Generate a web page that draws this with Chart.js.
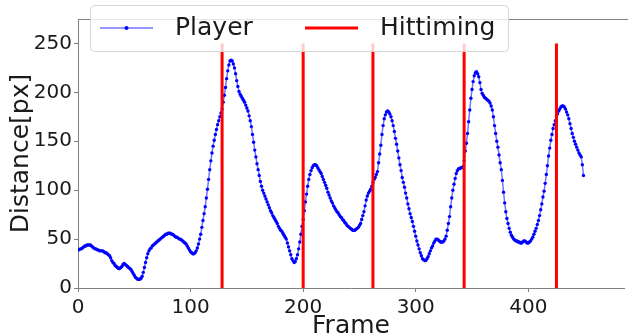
<!DOCTYPE html>
<html>
<head>
<meta charset="utf-8">
<title>Player distance</title>
<script src="https://cdn.jsdelivr.net/npm/chart.js@4.4.1/dist/chart.umd.min.js"></script>
<style>
    html, body { margin: 0; padding: 0; background: #fff; }
    #chart { display: block; }
</style>
</head>
<body>
<canvas id="chart" width="628" height="336"></canvas>
<script>
// Distancia del jugador por frame (un valor por frame 0..449)
const playerDistance = [
    39, 39, 40, 40, 41, 42, 43, 43, 44, 44,
    44, 44, 43, 42, 41, 40, 40, 39, 39, 38,
    38, 38, 38, 37, 36, 36, 35, 34, 33, 31,
    28, 26, 25, 23, 22, 21, 20, 20, 21, 22,
    24, 25, 24, 23, 22, 21, 20, 19, 17, 15,
    13, 11, 10, 9, 9, 9, 10, 12, 16, 21,
    26, 31, 35, 38, 40, 41, 43, 44, 45, 46,
    47, 48, 49, 50, 51, 52, 53, 54, 55, 55,
    56, 56, 56, 55, 55, 54, 53, 52, 52, 51,
    50, 50, 49, 48, 47, 46, 45, 43, 41, 39,
    37, 36, 35, 35, 36, 38, 41, 45, 50, 55,
    62, 69, 76, 83, 92, 101, 111, 121, 130, 138,
    145, 151, 157, 162, 167, 171, 175, 179, 183, 190,
    197, 205, 214, 222, 228, 232, 233, 232, 229, 225,
    219, 212, 206, 201, 198, 196, 194, 192, 190, 187,
    184, 181, 176, 171, 165, 157, 149, 141, 134, 127,
    121, 115, 109, 104, 100, 97, 94, 91, 88, 85,
    82, 79, 77, 74, 72, 70, 68, 66, 63, 61,
    59, 58, 56, 54, 52, 50, 46, 42, 38, 34,
    30, 28, 26, 27, 30, 34, 40, 47, 55, 63,
    70, 79, 88, 96, 104, 111, 116, 120, 123, 125,
    126, 126, 125, 123, 121, 119, 117, 114, 111, 108,
    105, 102, 98, 95, 92, 89, 87, 84, 82, 80,
    78, 77, 75, 73, 72, 70, 69, 67, 66, 64,
    63, 62, 61, 60, 59, 59, 59, 60, 61, 62,
    64, 66, 70, 74, 78, 84, 90, 94, 97, 99,
    101, 104, 108, 111, 113, 116, 119, 128, 137, 146,
    157, 166, 173, 177, 180, 181, 180, 178, 175, 171,
    166, 160, 153, 147, 140, 133, 126, 120, 113, 108,
    103, 97, 92, 86, 81, 76, 72, 68, 63, 58,
    53, 48, 44, 40, 36, 33, 30, 29, 28, 28,
    30, 32, 35, 38, 41, 43, 46, 48, 50, 50,
    49, 48, 47, 47, 47, 48, 50, 53, 59, 66,
    73, 83, 92, 100, 106, 112, 117, 120, 122, 122,
    123, 123, 124, 130, 140, 148, 158, 170, 182, 194,
    203, 211, 217, 220, 221, 219, 216, 210, 203, 199,
    197, 195, 194, 193, 192, 191, 189, 186, 182, 175,
    166, 158, 150, 144, 136, 128, 121, 110, 98, 87,
    78, 71, 66, 61, 57, 54, 52, 50, 49, 48,
    48, 47, 47, 46, 46, 47, 48, 48, 47, 46,
    46, 47, 48, 50, 52, 55, 58, 61, 65, 69,
    74, 80, 86, 93, 99, 107, 116, 125, 135, 143,
    151, 157, 163, 167, 171, 175, 178, 181, 183, 185,
    186, 186, 185, 183, 180, 177, 173, 168, 163, 158,
    154, 150, 147, 144, 141, 138, 136, 134, 126, 115
];

// Frames de golpe (líneas verticales rojas)
const hitFrames = [128, 200, 262, 343, 425];
const hitTop = 250;

// Ejes
const xTicks = [0, 100, 200, 300, 400];
const yTicks = [0, 50, 100, 150, 200, 250];
const xMax = 485;
const yMax = 275;

const COLORS = {
    player: '#0000ff',
    playerLine: 'rgba(0, 0, 255, 0.55)',
    hit: '#ff0000',
    spine: '#808080',
    text: '#1a1a1a',
};

const FONT = '"DejaVu Sans", "Liberation Sans", sans-serif';

const playerPoints = playerDistance.map(function(v, i) {
    return { x: i, y: v };
});

const hitPoints = [];
hitFrames.forEach(function(f) {
    hitPoints.push({ x: f, y: 0 });
    hitPoints.push({ x: f, y: hitTop });
    hitPoints.push({ x: f, y: null });
});

// Borde superior del área de dibujo + leyenda estilo matplotlib
const framePlugin = {
    id: 'frameAndLegend',
    afterDatasetsDraw(chart) {
        const ctx = chart.ctx;
        const area = chart.chartArea;
        ctx.save();
        ctx.strokeStyle = COLORS.spine;
        ctx.lineWidth = 1;
        ctx.beginPath();
        ctx.moveTo(area.left, area.top + 0.5);
        ctx.lineTo(chart.width, area.top + 0.5);
        ctx.stroke();
        ctx.restore();
    },
    afterDraw(chart) {
        const ctx = chart.ctx;
        const sets = chart.data.datasets;
        ctx.save();

        // caja
        ctx.fillStyle = 'rgba(255, 255, 255, 0.8)';
        ctx.strokeStyle = '#d6d6d6';
        ctx.lineWidth = 1;
        ctx.beginPath();
        ctx.roundRect(90.5, 5.5, 418, 46, 4);
        ctx.fill();
        ctx.stroke();

        const cy = 28;
        ctx.font = '25px ' + FONT;
        ctx.textBaseline = 'middle';
        ctx.textAlign = 'left';

        // Player
        ctx.strokeStyle = sets[0].borderColor;
        ctx.lineWidth = 1.5;
        ctx.beginPath();
        ctx.moveTo(100, cy);
        ctx.lineTo(153, cy);
        ctx.stroke();
        ctx.fillStyle = sets[0].pointBackgroundColor;
        ctx.beginPath();
        ctx.arc(126.5, cy, 2, 0, Math.PI * 2);
        ctx.fill();
        ctx.fillStyle = COLORS.text;
        ctx.fillText(sets[0].label, 175, cy);

        // Hittiming
        ctx.strokeStyle = sets[1].borderColor;
        ctx.lineWidth = 3;
        ctx.beginPath();
        ctx.moveTo(305, cy);
        ctx.lineTo(358, cy);
        ctx.stroke();
        ctx.fillStyle = COLORS.text;
        ctx.fillText(sets[1].label, 380, cy);

        ctx.restore();
    }
};

new Chart(document.getElementById('chart'), {
    type: 'line',
    data: {
        datasets: [{
            label: 'Player',
            data: playerPoints,
            borderColor: COLORS.playerLine,
            borderWidth: 1.5,
            pointRadius: 1.7,
            pointBorderWidth: 0,
            pointBackgroundColor: COLORS.player,
            tension: 0,
            order: 2,
        }, {
            label: 'Hittiming',
            data: hitPoints,
            borderColor: COLORS.hit,
            borderWidth: 3,
            pointRadius: 0,
            spanGaps: false,
            order: 1,
        }]
    },
    options: {
        responsive: false,
        animation: false,
        devicePixelRatio: 1,
        layout: {
            padding: { top: 19, right: 0, bottom: 0, left: 0 }
        },
        plugins: {
            legend: { display: false },
            tooltip: { enabled: false },
        },
        scales: {
            x: {
                type: 'linear',
                min: 0,
                max: xMax,
                afterBuildTicks: function(scale) {
                    scale.ticks = xTicks.map(function(v) { return { value: v }; });
                },
                afterFit: function(scale) {
                    scale.height = 48;
                },
                grid: {
                    display: true,
                    drawOnChartArea: false,
                    drawTicks: true,
                    tickLength: 4,
                    color: COLORS.spine,
                },
                border: { display: true, color: COLORS.spine, width: 1 },
                ticks: {
                    padding: 4,
                    maxRotation: 0,
                    color: COLORS.text,
                    font: { family: FONT, size: 20 },
                },
                title: {
                    display: true,
                    text: 'Frame',
                    color: COLORS.text,
                    font: { family: FONT, size: 25, lineHeight: 1 },
                    padding: { top: 0, bottom: -3 },
                }
            },
            y: {
                type: 'linear',
                min: 0,
                max: yMax,
                afterBuildTicks: function(scale) {
                    scale.ticks = yTicks.map(function(v) { return { value: v }; });
                },
                afterFit: function(scale) {
                    scale.width = 78;
                },
                grid: {
                    display: true,
                    drawOnChartArea: false,
                    drawTicks: true,
                    tickLength: 4,
                    color: COLORS.spine,
                },
                border: { display: true, color: COLORS.spine, width: 1 },
                ticks: {
                    padding: 2,
                    color: COLORS.text,
                    font: { family: FONT, size: 20 },
                },
                title: {
                    display: true,
                    text: 'Distance[px]',
                    color: COLORS.text,
                    font: { family: FONT, size: 25, lineHeight: 1 },
                    padding: { top: 9, bottom: 0 },
                }
            }
        }
    },
    plugins: [framePlugin]
});
</script>
</body>
</html>
